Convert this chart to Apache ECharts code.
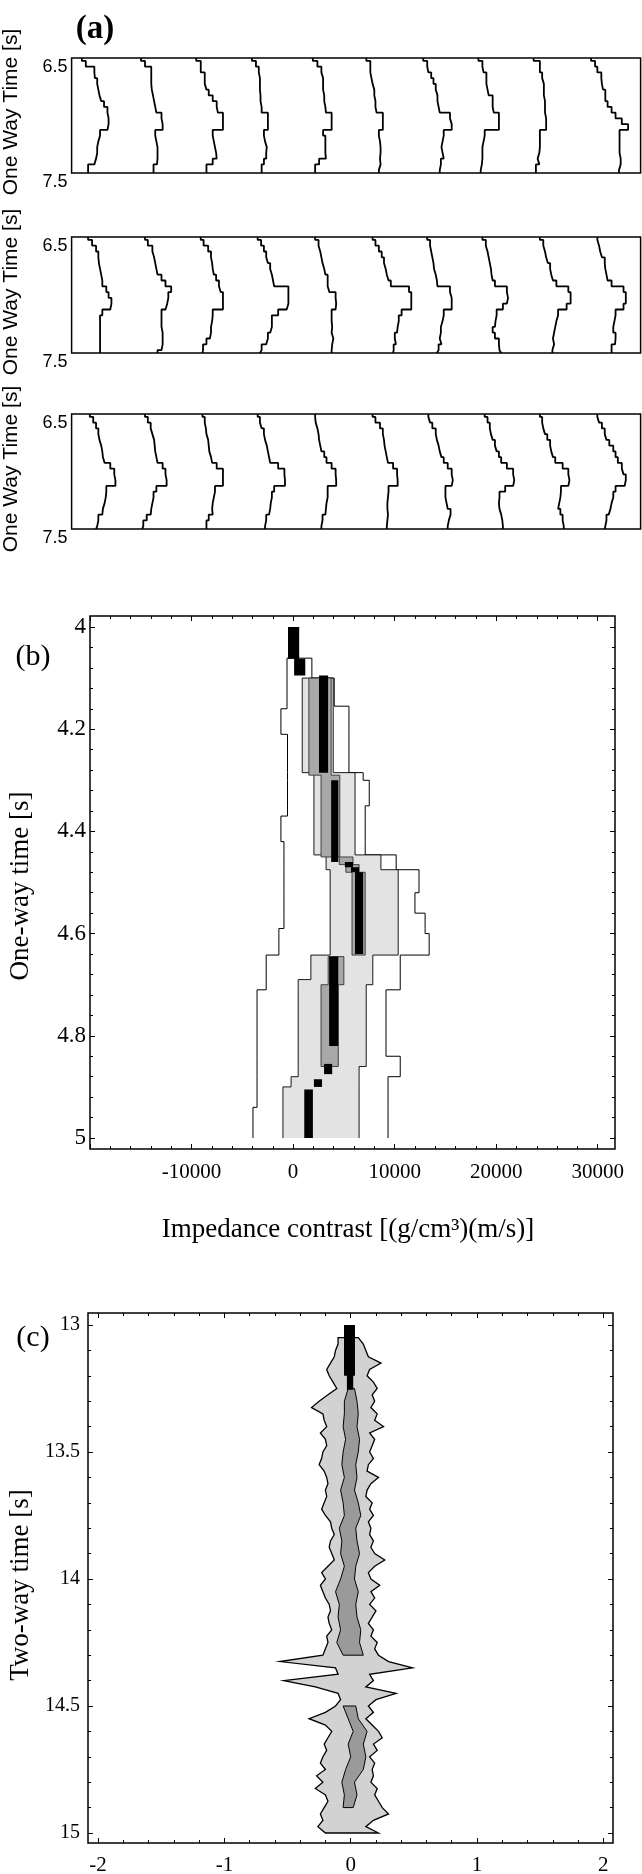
<!DOCTYPE html>
<html><head><meta charset="utf-8">
<script src="https://cdn.jsdelivr.net/npm/echarts@6/dist/echarts.min.js"></script>
<style>html,body{margin:0;padding:0;background:#fff}#c{width:642px;height:1874px}</style>
</head><body><div id="c"></div>
<script>
// ===== Panel (a): 3 panels x 10 traces, x offset (column fraction) at each time sample =====
const aTimes = [6.50,6.55,6.60,6.65,6.70,6.75,6.80,6.85,6.90,6.95,7.00,7.05,7.10,7.15,7.20,7.25,7.30,7.35,7.40,7.45,7.50];
const aTicks = [6.5, 7.5];
const a1Traces = [
 [0.18,0.25,0.40,0.41,0.45,0.47,0.49,0.52,0.57,0.63,0.65,0.65,0.63,0.50,0.47,0.45,0.45,0.43,0.40,0.29,0.29],
 [0.22,0.29,0.40,0.40,0.40,0.41,0.43,0.45,0.47,0.49,0.58,0.60,0.60,0.47,0.49,0.51,0.51,0.51,0.50,0.44,0.44],
 [0.19,0.27,0.27,0.34,0.34,0.37,0.41,0.48,0.55,0.57,0.66,0.66,0.66,0.48,0.50,0.52,0.54,0.55,0.48,0.37,0.37],
 [0.17,0.24,0.29,0.31,0.31,0.31,0.32,0.32,0.34,0.34,0.45,0.45,0.45,0.38,0.40,0.43,0.42,0.42,0.38,0.34,0.34],
 [0.24,0.32,0.39,0.42,0.42,0.42,0.44,0.44,0.46,0.47,0.57,0.57,0.57,0.42,0.46,0.46,0.46,0.47,0.35,0.28,0.28],
 [0.18,0.25,0.25,0.27,0.29,0.32,0.32,0.34,0.34,0.36,0.47,0.47,0.47,0.40,0.42,0.43,0.43,0.42,0.43,0.40,0.40],
 [0.18,0.25,0.27,0.32,0.36,0.40,0.43,0.43,0.45,0.47,0.65,0.68,0.68,0.54,0.52,0.50,0.52,0.54,0.49,0.47,0.47],
 [0.15,0.22,0.24,0.29,0.29,0.31,0.33,0.40,0.40,0.42,0.51,0.51,0.51,0.26,0.24,0.22,0.22,0.22,0.21,0.19,0.19],
 [0.12,0.23,0.23,0.27,0.30,0.30,0.30,0.32,0.32,0.32,0.34,0.34,0.34,0.23,0.23,0.23,0.22,0.19,0.22,0.16,0.16],
 [0.13,0.20,0.24,0.31,0.32,0.34,0.38,0.38,0.42,0.49,0.56,0.67,0.78,0.63,0.63,0.63,0.63,0.65,0.65,0.62,0.62]
];
const a2Traces = [
 [0.29,0.36,0.43,0.47,0.48,0.50,0.52,0.54,0.54,0.61,0.65,0.70,0.68,0.54,0.50,0.50,0.50,0.50,0.50,0.50,0.50],
 [0.29,0.34,0.42,0.45,0.47,0.49,0.51,0.58,0.65,0.75,0.70,0.68,0.65,0.58,0.58,0.58,0.60,0.60,0.60,0.58,0.51],
 [0.27,0.32,0.40,0.45,0.47,0.48,0.50,0.54,0.59,0.62,0.66,0.66,0.66,0.48,0.47,0.45,0.45,0.43,0.37,0.31,0.30],
 [0.27,0.33,0.38,0.42,0.45,0.49,0.52,0.54,0.56,0.81,0.81,0.81,0.78,0.63,0.52,0.52,0.49,0.45,0.42,0.34,0.31],
 [0.28,0.34,0.37,0.39,0.41,0.44,0.46,0.50,0.50,0.53,0.64,0.65,0.64,0.57,0.57,0.58,0.57,0.60,0.58,0.57,0.57],
 [0.29,0.34,0.40,0.45,0.49,0.52,0.54,0.57,0.61,0.93,0.97,0.97,0.97,0.80,0.75,0.73,0.72,0.68,0.70,0.66,0.65],
 [0.25,0.30,0.32,0.34,0.36,0.37,0.40,0.42,0.43,0.65,0.68,0.68,0.68,0.54,0.52,0.49,0.49,0.47,0.50,0.45,0.42],
 [0.22,0.28,0.31,0.33,0.35,0.37,0.38,0.40,0.44,0.65,0.67,0.65,0.58,0.47,0.45,0.44,0.40,0.44,0.51,0.52,0.55],
 [0.23,0.29,0.32,0.34,0.37,0.41,0.43,0.46,0.52,0.73,0.77,0.77,0.70,0.55,0.52,0.50,0.48,0.46,0.48,0.45,0.45],
 [0.24,0.27,0.29,0.32,0.37,0.38,0.40,0.42,0.49,0.70,0.74,0.74,0.70,0.56,0.54,0.52,0.52,0.56,0.55,0.49,0.49]
];
const a3Traces = [
 [0.32,0.38,0.43,0.47,0.49,0.52,0.54,0.55,0.58,0.68,0.75,0.77,0.77,0.61,0.60,0.58,0.55,0.54,0.47,0.45,0.43],
 [0.29,0.34,0.39,0.42,0.45,0.46,0.47,0.49,0.51,0.60,0.65,0.67,0.67,0.49,0.44,0.42,0.40,0.39,0.32,0.26,0.24],
 [0.30,0.34,0.36,0.37,0.40,0.41,0.42,0.45,0.47,0.55,0.66,0.66,0.66,0.52,0.50,0.48,0.47,0.48,0.41,0.37,0.37],
 [0.27,0.31,0.34,0.38,0.40,0.43,0.45,0.47,0.49,0.63,0.74,0.75,0.75,0.56,0.52,0.50,0.49,0.47,0.42,0.40,0.40],
 [0.28,0.29,0.32,0.34,0.35,0.37,0.39,0.44,0.48,0.57,0.64,0.65,0.65,0.50,0.50,0.48,0.47,0.46,0.41,0.39,0.39],
 [0.29,0.34,0.42,0.47,0.49,0.50,0.52,0.54,0.56,0.65,0.72,0.73,0.73,0.57,0.56,0.55,0.55,0.56,0.55,0.54,0.54],
 [0.27,0.30,0.34,0.40,0.42,0.45,0.47,0.50,0.54,0.61,0.68,0.70,0.68,0.57,0.57,0.59,0.61,0.66,0.63,0.61,0.61],
 [0.26,0.31,0.35,0.37,0.40,0.44,0.47,0.51,0.55,0.65,0.76,0.78,0.76,0.62,0.52,0.51,0.52,0.55,0.57,0.58,0.58],
 [0.23,0.27,0.29,0.32,0.36,0.41,0.43,0.46,0.50,0.63,0.73,0.75,0.73,0.60,0.59,0.57,0.55,0.59,0.63,0.65,0.65],
 [0.24,0.27,0.32,0.37,0.40,0.45,0.52,0.56,0.60,0.67,0.70,0.74,0.72,0.56,0.52,0.49,0.47,0.44,0.40,0.38,0.37]
];

// ===== Panel (b): contour levels as piecewise-constant bands (time breakpoints, left/right impedance) =====
const bOutT = [4.061,4.10,4.155,4.16,4.21,4.285,4.30,4.35,4.37,4.42,4.446,4.475,4.52,4.56,4.59,4.60,4.642,4.71,4.84,4.88,4.94,5.0];
const bOutL = [-600,-600,-600,-1200,-550,-550,-550,-550,-1200,-900,-900,-900,-900,-900,-1400,-1400,-2650,-3550,-3550,-3550,-3950];
const bOutR = [1850,4050,5500,5500,5500,6900,7500,7100,7100,7100,10150,12400,12000,13000,13000,13400,10550,9150,10550,9350,9350];
const bLitT = [4.10,4.285,4.446,4.475,4.642,4.69,4.70,4.86,4.88,4.90,5.0];
const bLitL = [900,2050,3250,3650,1750,500,500,500,-200,-1000];
const bLitR = [3950,6100,8650,10350,7850,7850,7200,6500,6500,6500];
const bMidT = [4.10,4.29,4.45,4.465,4.48,4.642,4.645,4.70,4.86];
const bMidL = [1550,2750,4550,5200,5800,null,3450,2750];
const bMidR = [3750,4600,5900,6500,7100,null,5000,4450];
const bCoreT = [4.0,4.062,4.095,4.285,4.30,4.46,4.47,4.48,4.64,4.645,4.82,4.855,4.875,4.885,4.90,4.905,5.0];
const bCoreL = [-500,100,2550,null,3750,5100,5700,6100,null,3550,null,3050,null,2050,null,1100];
const bCoreR = [600,1200,3450,null,4450,5900,6500,6900,null,4450,null,3850,null,2850,null,1950];
const bXTicks = [-20000,-10000,0,10000,20000,30000];
const bXLabels = [-10000,0,10000,20000,30000];
const bXMinor = [-18000,-16000,-14000,-12000,-8000,-6000,-4000,-2000,2000,4000,6000,8000,12000,14000,16000,18000,22000,24000,26000,28000];
const bYTicks = [4,4.2,4.4,4.6,4.8,5];
const bYMinor = [4.04,4.08,4.12,4.16,4.24,4.28,4.32,4.36,4.44,4.48,4.52,4.56,4.64,4.68,4.72,4.76,4.84,4.88,4.92,4.96];

// ===== Panel (c): sampled envelope of outer (light) and inner (medium) regions =====
const cOutT = [13.05,13.075,13.1,13.125,13.15,13.175,13.2,13.225,13.25,13.275,
 13.3,13.325,13.35,13.375,13.4,13.425,13.45,13.475,13.5,13.525,
 13.55,13.575,13.6,13.625,13.65,13.675,13.7,13.725,13.75,13.775,
 13.8,13.825,13.85,13.875,13.9,13.925,13.95,13.975,14.0,14.025,
 14.05,14.075,14.1,14.125,14.15,14.175,14.2,14.225,14.25,14.275,
 14.3,14.325,14.35,14.375,14.4,14.425,14.45,14.475,14.5,14.525,
 14.55,14.575,14.6,14.625,14.65,14.675,14.7,14.725,14.75,14.775,
 14.8,14.825,14.85,14.875,14.9,14.925,14.95,14.975,15.0];
const cOutL = [-0.10,-0.10,-0.12,-0.13,-0.16,-0.19,-0.17,-0.14,-0.11,-0.18,
 -0.25,-0.31,-0.22,-0.21,-0.19,-0.24,-0.20,-0.19,-0.22,-0.23,
 -0.25,-0.21,-0.19,-0.18,-0.20,-0.19,-0.21,-0.23,-0.20,-0.16,
 -0.15,-0.13,-0.16,-0.17,-0.15,-0.13,-0.18,-0.23,-0.20,-0.24,
 -0.22,-0.20,-0.17,-0.16,-0.18,-0.17,-0.15,-0.19,-0.18,-0.20,
 -0.22,-0.56,-0.12,-0.10,-0.53,-0.28,-0.10,-0.08,-0.12,-0.20,
 -0.33,-0.20,-0.15,-0.18,-0.21,-0.19,-0.22,-0.24,-0.20,-0.27,
 -0.22,-0.28,-0.20,-0.18,-0.21,-0.24,-0.22,-0.26,-0.20];
const cOutR = [0.06,0.10,0.12,0.14,0.24,0.15,0.13,0.18,0.21,0.17,
 0.19,0.16,0.21,0.19,0.26,0.15,0.19,0.17,0.15,0.18,
 0.14,0.13,0.22,0.16,0.13,0.12,0.17,0.15,0.18,0.14,
 0.16,0.15,0.18,0.16,0.19,0.27,0.19,0.14,0.16,0.23,
 0.16,0.19,0.15,0.20,0.17,0.14,0.18,0.16,0.21,0.19,
 0.22,0.30,0.49,0.15,0.18,0.12,0.36,0.20,0.14,0.18,
 0.12,0.17,0.22,0.25,0.18,0.21,0.15,0.19,0.17,0.18,
 0.16,0.21,0.19,0.22,0.25,0.30,0.18,0.12,0.22];
const cInT = [13.25,13.3,13.35,13.4,13.45,13.5,13.55,13.6,13.65,13.7,
 13.75,13.8,13.85,13.9,13.95,14.0,14.05,14.1,14.15,14.2,
 14.25,14.3,14.35,14.4,14.45,14.5,14.55,14.6,14.65,14.7,
 14.75,14.8,14.85,14.9,14.95,15.0];
const cInL = [-0.02,-0.05,-0.05,-0.06,-0.04,-0.06,-0.07,-0.05,-0.08,-0.06,
 -0.05,-0.09,-0.07,-0.08,-0.05,-0.08,-0.12,-0.09,-0.10,-0.08,
 -0.11,-0.06,null,null,null,-0.06,-0.02,0.02,-0.02,0.00,
 -0.04,-0.07,-0.05,-0.06,null,null];
const cInR = [0.03,0.05,0.06,0.05,0.07,0.06,0.04,0.05,0.03,0.06,
 0.08,0.04,0.05,0.07,0.04,0.03,0.06,0.04,0.05,0.08,
 0.07,0.10,null,null,null,0.04,0.06,0.13,0.10,0.12,
 0.10,0.03,0.05,0.02,null,null];
const cCoreT = [13.0,13.2,13.255];
const cCoreL = [-0.053,-0.03];
const cCoreR = [0.034,0.02];
const cXTicks = [-2,-1,0,1,2];
const cXMinor = [-1.8,-1.6,-1.4,-1.2,-0.8,-0.6,-0.4,-0.2,0.2,0.4,0.6,0.8,1.2,1.4,1.6,1.8];
const cYTicks = [13,13.5,14,14.5,15];
const cYMinor = [13.1,13.2,13.3,13.4,13.6,13.7,13.8,13.9,14.1,14.2,14.3,14.4,14.6,14.7,14.8,14.9];

// ===== helpers =====
function makePoly(left, right, open) {
  return {fill: left.concat(right.slice().reverse()), outline: left.slice().reverse().concat(right), open: open};
}
function buildStep(T, L, R, bottomT) {
  const out = []; let k = 0; const n = L.length;
  while (k < n) {
    if (L[k] == null) { k++; continue; }
    let j = k; while (j < n && L[j] != null) j++;
    const left = [], right = [];
    for (let i = k; i < j; i++) {
      left.push([L[i], T[i]], [L[i], T[i+1]]);
      right.push([R[i], T[i]], [R[i], T[i+1]]);
    }
    out.push(makePoly(left, right, T[j] >= bottomT));
    k = j;
  }
  return out;
}
function buildLinear(T, L, R, bottomT) {
  const out = []; let k = 0; const n = L.length;
  while (k < n) {
    if (L[k] == null) { k++; continue; }
    let j = k; while (j < n && L[j] != null) j++;
    if (j - k >= 2) {
      const left = [], right = [];
      for (let i = k; i < j; i++) { left.push([L[i], T[i]]); right.push([R[i], T[i]]); }
      out.push(makePoly(left, right, T[j-1] >= bottomT));
    }
    k = j;
  }
  return out;
}
function polySeries(xi, yi, polys, st, z) {
  return {
    type: 'custom', coordinateSystem: 'cartesian2d', xAxisIndex: xi, yAxisIndex: yi, silent: true, z: z,
    data: polys.map((p, i) => [p.fill[0][0], p.fill[0][1], i]),
    encode: {x: 0, y: 1},
    renderItem: function (params, api) {
      const p = polys[params.dataIndex];
      const pts = p.fill.map(q => api.coord(q));
      const children = [{type: 'polygon', shape: {points: pts},
        style: {fill: st.fill, stroke: (p.open || !st.stroke) ? 'none' : st.stroke, lineWidth: st.lw}}];
      if (p.open && st.stroke) {
        children.push({type: 'polyline', shape: {points: p.outline.map(q => api.coord(q))},
          style: {fill: 'none', stroke: st.stroke, lineWidth: st.lw}});
      }
      return {type: 'group', children: children};
    }
  };
}
function aSeries(pi, traces) {
  return traces.map((vals, i) => {
    const data = [];
    vals.forEach((v, k) => {
      const t = aTimes[k];
      data.push([i + v, Math.max(6.5, t - 0.025)], [i + v, Math.min(7.5, t + 0.025)]);
    });
    return {type: 'line', xAxisIndex: pi, yAxisIndex: pi, data: data, symbol: 'none', silent: true,
      lineStyle: {color: '#000', width: 1.8}, z: 3};
  });
}
const serif = 'Liberation Serif';
function tickAxis(grid, pos, min, max, ticks, len, labels, lab, inverse) {
  return {
    type: 'value', gridIndex: grid, position: pos, min: min, max: max, inverse: !!inverse,
    axisLine: {show: false, onZero: false}, splitLine: {show: false},
    axisTick: {show: true, inside: true, length: len, customValues: ticks, lineStyle: {color: '#000', width: 1}},
    axisLabel: labels ? Object.assign({show: true, customValues: labels, formatter: v => String(v), color: '#000', fontFamily: serif}, lab) : {show: false}
  };
}

// ===== layout =====
const grids = [
  {left: 71.6, top: 58, width: 569, height: 115},
  {left: 71.6, top: 237, width: 569, height: 116},
  {left: 71.6, top: 414, width: 569, height: 115},
  {left: 90, top: 616, width: 525, height: 533},
  {left: 88, top: 1313, width: 525, height: 530}
].map(g => Object.assign(g, {show: true, borderColor: '#000', borderWidth: 1.5, backgroundColor: 'transparent', containLabel: false, outerBoundsMode: 'none'}));

const xAxes = [], yAxes = [];
for (let p = 0; p < 3; p++) {
  xAxes.push({type: 'value', gridIndex: p, min: 0, max: 10, show: false, axisLine: {onZero: false}});
  yAxes.push({type: 'value', gridIndex: p, min: 6.5, max: 7.5, interval: 1, inverse: true,
    axisLine: {show: false, onZero: false}, axisTick: {show: false}, splitLine: {show: false},
    axisLabel: {show: true, color: '#000', fontFamily: 'Liberation Sans', fontSize: 18, margin: 4, verticalAlign: 'top',
      formatter: v => aTicks.indexOf(+v.toFixed(1)) >= 0 ? v.toFixed(1) : ''}});
}
// panel b axes: x 3..6, y 3..6
const bXmin = -20000, bXmax = 31700, bYmin = 3.9785, bYmax = 5.0215;
xAxes.push(tickAxis(3, 'bottom', bXmin, bXmax, bXTicks, 5, bXLabels, {fontSize: 21, margin: 13}));
xAxes.push(tickAxis(3, 'bottom', bXmin, bXmax, bXMinor, 3));
xAxes.push(tickAxis(3, 'top', bXmin, bXmax, bXTicks, 5));
xAxes.push(tickAxis(3, 'top', bXmin, bXmax, bXMinor, 3));
yAxes.push(tickAxis(3, 'left', bYmin, bYmax, bYTicks, 5, bYTicks, {fontSize: 23, margin: 4}, true));
yAxes.push(tickAxis(3, 'left', bYmin, bYmax, bYMinor, 3, null, null, true));
yAxes.push(tickAxis(3, 'right', bYmin, bYmax, bYTicks, 5, null, null, true));
yAxes.push(tickAxis(3, 'right', bYmin, bYmax, bYMinor, 3, null, null, true));
// panel c axes: x 7..10, y 7..10
const cXmin = -2.08, cXmax = 2.077, cYmin = 12.9528, cYmax = 15.0394;
xAxes.push(tickAxis(4, 'bottom', cXmin, cXmax, cXTicks, 5, cXTicks, {fontSize: 21, margin: 12}));
xAxes.push(tickAxis(4, 'bottom', cXmin, cXmax, cXMinor, 3));
xAxes.push(tickAxis(4, 'top', cXmin, cXmax, cXTicks, 5));
xAxes.push(tickAxis(4, 'top', cXmin, cXmax, cXMinor, 3));
yAxes.push(tickAxis(4, 'left', cYmin, cYmax, cYTicks, 5, cYTicks, {fontSize: 20, margin: 8}, true));
yAxes.push(tickAxis(4, 'left', cYmin, cYmax, cYMinor, 3, null, null, true));
yAxes.push(tickAxis(4, 'right', cYmin, cYmax, cYTicks, 5, null, null, true));
yAxes.push(tickAxis(4, 'right', cYmin, cYmax, cYMinor, 3, null, null, true));

const series = [].concat(aSeries(0, a1Traces), aSeries(1, a2Traces), aSeries(2, a3Traces));
series.push(polySeries(3, 3, buildStep(bOutT, bOutL, bOutR, 5.0), {fill: '#ffffff', stroke: '#000', lw: 1}, 4));
series.push(polySeries(3, 3, buildStep(bLitT, bLitL, bLitR, 5.0), {fill: '#e3e3e3', stroke: '#000', lw: 0.9}, 5));
series.push(polySeries(3, 3, buildStep(bMidT, bMidL, bMidR, 5.0), {fill: '#a8a8a8', stroke: '#222', lw: 0.8}, 6));
series.push(polySeries(3, 3, buildStep(bCoreT, bCoreL, bCoreR, 99), {fill: '#000', stroke: null, lw: 0}, 7));
series.push(polySeries(7, 7, buildLinear(cOutT, cOutL, cOutR, 99), {fill: '#d2d2d2', stroke: '#000', lw: 1.3}, 4));
series.push(polySeries(7, 7, buildLinear(cInT, cInL, cInR, 99), {fill: '#9a9a9a', stroke: '#000', lw: 1}, 5));
series.push(polySeries(7, 7, buildStep(cCoreT, cCoreL, cCoreR, 99), {fill: '#000', stroke: null, lw: 0}, 6));

function txt(x, y, text, font, rot) {
  return {type: 'text', x: x, y: y, rotation: rot || 0, silent: true, z: 10,
    style: {text: text, font: font, fill: '#000', align: 'center', verticalAlign: 'middle'}};
}
const R90 = Math.PI / 2;
const graphic = [
  txt(95, 29, '(a)', 'bold 33px "Liberation Serif"'),
  txt(11, 112, 'One Way Time [s]', '21px "Liberation Sans"', R90),
  txt(11, 292, 'One Way Time [s]', '21px "Liberation Sans"', R90),
  txt(11, 469, 'One Way Time [s]', '21px "Liberation Sans"', R90),
  txt(33, 657, '(b)', '30px "Liberation Serif"'),
  txt(21, 886, 'One-way time [s]', '27px "Liberation Serif"', R90),
  txt(348, 1230, 'Impedance contrast [(g/cm\u00B3)(m/s)]', '27px "Liberation Serif"'),
  txt(33, 1338, '(c)', '30px "Liberation Serif"'),
  txt(21, 1585, 'Two-way time [s]', '27px "Liberation Serif"', R90)
];

const chart = echarts.init(document.getElementById('c'), null, {renderer: 'canvas', width: 642, height: 1874});
chart.setOption({
  animation: false,
  backgroundColor: '#fff',
  grid: grids,
  xAxis: xAxes,
  yAxis: yAxes,
  series: series,
  graphic: graphic
});
</script>
</body></html>
